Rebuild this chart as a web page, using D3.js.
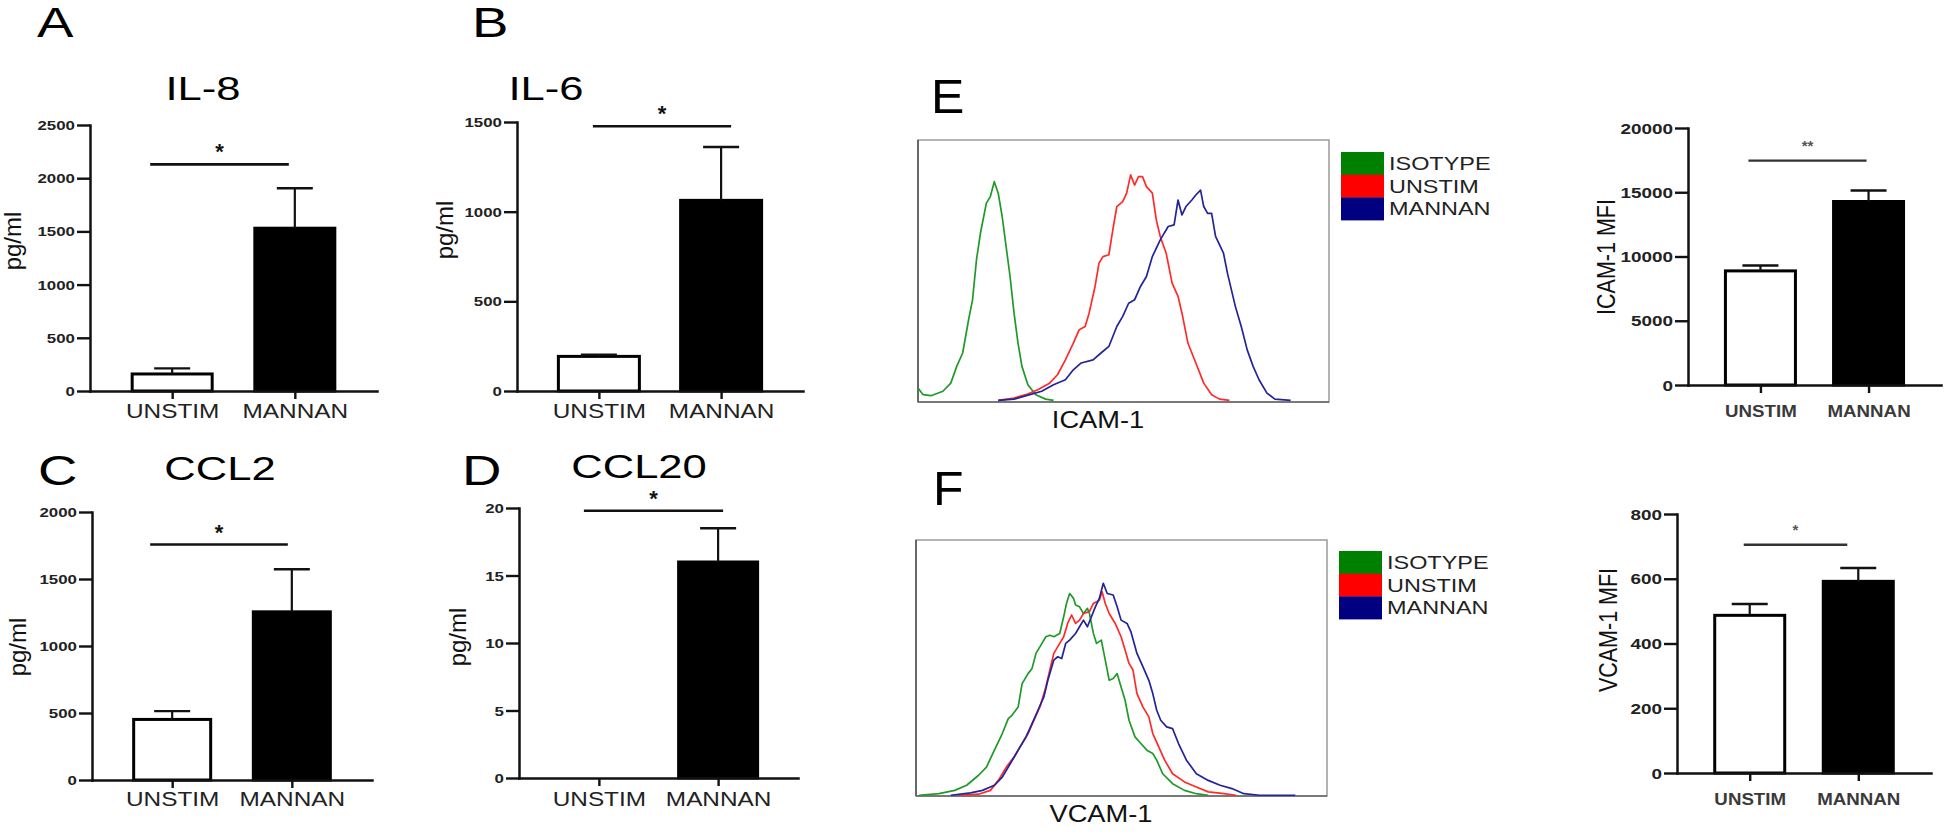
<!DOCTYPE html>
<html><head><meta charset="utf-8">
<script src="https://cdn.jsdelivr.net/npm/d3@7"></script>
<style>
body{margin:0;background:#fff;}
svg{display:block;}
text{font-family:"Liberation Sans",Arial,Helvetica,sans-serif;}
</style>
</head><body>
<svg id="c" width="1944" height="835"></svg>
<script>
// ---------------- DATA ----------------
const categories = ["UNSTIM", "MANNAN"];

const il8Mean = [160, 1530],  il8Upper = [213, 1905],  il8Ticks = [0, 500, 1000, 1500, 2000, 2500], il8Sig = 2130;
const il6Mean = [193, 1063],  il6Upper = [203, 1361],  il6Ticks = [0, 500, 1000, 1500],             il6Sig = 1476;
const ccl2Mean = [452, 1255], ccl2Upper = [514, 1573], ccl2Ticks = [0, 500, 1000, 1500, 2000],       ccl2Sig = 1757;
const ccl20Mean = [0, 16.0],  ccl20Upper = [0, 18.5],  ccl20Ticks = [0, 5, 10, 15, 20],              ccl20Sig = 19.8;
const icamMean = [8880, 14280], icamUpper = [9300, 15140], icamTicks = [0, 5000, 10000, 15000, 20000], icamSig = 17455;
const vcamMean = [487, 592],  vcamUpper = [522, 633],  vcamTicks = [0, 200, 400, 600, 800],          vcamSig = 705;

const legendLabels = ["ISOTYPE", "UNSTIM", "MANNAN"];
const legendColors = ["#008000", "#ff0000", "#000080"];
const lineColors   = ["#1f9a2a", "#ff2a2a", "#23239a"];

// flow cytometry histograms: [channel (0-1000), % of max]
const icamIsotype = [[0,5.3],[12.5,2.8],[31.7,2.4],[60.6,4.1],[79.8,7.2],[94.2,13.6],[108.7,18.7],[123.1,31.4],[132.7,39.0],[142.3,54.3],[151.9,64.4],[166.3,75.9],[176.0,78.4],[185.6,84.1],[195.2,79.7],[204.8,70.8],[214.4,59.3],[224.0,47.9],[233.7,33.9],[243.3,22.5],[252.9,13.6],[267.3,6.6],[286.5,2.8],[310.6,1.1],[329.8,0.6]];
const icamUnstim = [[195.2,0.6],[233.7,1.5],[262.5,2.8],[291.3,4.7],[320.2,7.2],[339.4,10.4],[358.7,16.1],[377.9,22.5],[392.3,27.6],[406.7,28.8],[416.3,33.9],[430.8,44.1],[440.4,53.0],[450.0,55.5],[464.4,56.2],[474.0,65.7],[483.7,74.6],[498.1,76.5],[507.7,79.7],[517.3,86.7],[526.9,82.8],[536.5,86.0],[546.2,86.0],[555.8,82.2],[570.2,79.7],[579.8,69.5],[589.4,63.2],[603.8,56.8],[618.3,45.4],[632.7,40.3],[642.3,33.9],[656.7,22.5],[676.0,14.9],[695.2,7.2],[714.4,2.8],[733.7,1.1],[757.7,0.6]];
const icamMannan = [[195.2,0.6],[233.7,1.1],[272.1,2.8],[301.0,4.1],[329.8,6.6],[358.7,8.5],[377.9,12.3],[397.1,14.9],[426.0,16.1],[445.2,18.7],[464.4,21.2],[483.7,28.8],[498.1,32.7],[512.5,37.7],[526.9,39.0],[541.3,44.1],[555.8,47.9],[570.2,55.5],[589.4,61.9],[608.7,67.0],[623.1,67.6],[632.7,77.1],[642.3,71.4],[651.9,74.6],[666.3,77.1],[676.0,79.0],[687.5,80.9],[695.2,74.6],[704.8,72.0],[714.4,72.0],[724.0,63.2],[743.3,56.8],[752.9,49.2],[772.1,36.5],[786.5,28.8],[801.0,19.9],[815.4,13.6],[829.8,8.5],[849.0,3.4],[868.3,1.1],[906.7,0.6]];

const vcamIsotype = [[7.7,0.3],[55.9,0.9],[94.4,2.2],[123.3,4.2],[152.2,8.1],[171.5,11.3],[190.8,17.9],[210.0,24.4],[224.5,30.2],[234.1,31.6],[248.6,34.8],[258.2,43.9],[272.6,47.8],[282.3,49.8],[291.9,55.7],[306.4,59.6],[316.0,62.2],[325.6,62.8],[335.3,62.2],[349.7,63.5],[359.3,70.0],[366.1,75.2],[373.8,79.1],[383.4,77.2],[388.2,74.6],[397.9,73.9],[407.5,71.3],[417.1,73.3],[422.0,71.3],[431.6,63.5],[439.3,59.6],[450.9,60.9],[460.5,53.1],[470.1,45.2],[479.8,45.9],[489.4,47.8],[499.0,42.6],[508.7,37.4],[518.3,29.6],[532.8,23.1],[547.2,20.5],[561.7,17.9],[576.1,16.6],[585.7,14.0],[600.2,8.7],[624.3,4.8],[653.2,2.2],[682.1,0.9],[711.0,0.3]];
const vcamUnstim = [[104.0,0.3],[152.2,0.7],[181.1,2.2],[200.4,6.1],[219.7,11.3],[238.9,15.3],[258.2,20.5],[272.6,24.4],[287.1,29.6],[301.5,34.8],[316.0,42.6],[325.6,49.2],[335.3,55.7],[349.7,59.6],[359.3,62.2],[369.0,67.4],[378.6,70.7],[388.2,67.4],[397.9,68.7],[407.5,71.3],[422.0,72.0],[431.6,75.2],[446.1,76.5],[452.8,79.8],[460.5,75.2],[470.1,71.3],[484.6,67.4],[499.0,62.2],[508.7,57.0],[518.3,51.8],[527.9,49.2],[537.6,40.0],[552.0,34.8],[566.5,30.9],[576.1,24.4],[590.6,19.2],[605.0,14.0],[624.3,8.7],[653.2,5.5],[682.1,3.5],[711.0,1.6],[749.5,0.9],[778.4,0.3]];
const vcamMannan = [[84.8,0.3],[132.9,1.2],[161.8,2.2],[190.8,4.2],[210.0,7.4],[229.3,12.6],[248.6,17.9],[267.8,23.1],[282.3,28.3],[296.7,33.5],[311.2,38.7],[320.8,45.2],[335.3,53.1],[344.9,54.4],[354.5,53.7],[364.2,59.6],[373.8,60.9],[388.2,63.5],[397.9,66.1],[407.5,68.7],[417.1,66.1],[426.8,70.0],[436.4,73.9],[446.1,77.2],[455.7,83.1],[465.3,79.1],[479.8,78.5],[489.4,73.9],[499.0,68.7],[513.5,67.4],[523.1,64.1],[537.6,55.7],[552.0,50.5],[566.5,45.2],[576.1,40.0],[585.7,33.5],[595.4,29.6],[609.8,27.0],[624.3,26.3],[638.7,20.5],[658.0,14.0],[682.1,8.7],[711.0,6.1],[739.9,4.2],[768.8,2.9],[797.7,0.9],[836.2,0.3],[922.9,0.3]];

// ---------------- DRAWING ----------------
const svg = d3.select("#c");

function stext(parent, x, y, str, o) {
  const t = parent.append("text")
    .attr("transform", `translate(${x},${y}) scale(${o.sx || 1},1)` + (o.rot ? " rotate(-90)" : ""))
    .attr("text-anchor", o.anchor || "start")
    .attr("font-size", o.size)
    .attr("font-weight", o.weight || "normal")
    .attr("fill", o.fill || "#111")
    .text(str);
  return t;
}

const styles = {
  big:   {tickFont: 12.5, tickSx: 1.35, catFont: 21, catSx: 1.16, catWeight: "normal", catFill: "#222",
          ylabFont: 24, ylabSx: 1, starFont: 22, starFill: "#111", starDy: -5, sigW: 2.6, sigColor: "#111"},
  small: {tickFont: 14, tickSx: 1.35, catFont: 16, catSx: 1.17, catWeight: "bold", catFill: "#3a3a3a",
          ylabFont: 21.5, ylabSx: 1.23, starFont: 15, starFill: "#555", starDy: -10, sigW: 2.3, sigColor: "#333"}
};

const barPanels = [
  {letter: "A", letterX: 37, letterY: 37, title: "IL-8", titleX: 203, titleY: 100,
   mean: il8Mean, upper: il8Upper, ticks: il8Ticks, sig: il8Sig, star: "*", sigL: -22, sigR: -6,
   axisX: 90, yTop: 125, yBot: 391, xEnd: 377, barW: 80, ylab: "pg/ml", ylabX: 21, ylabY: 241, catDy: 27, style: "big"},
  {letter: "B", letterX: 472, letterY: 37, title: "IL-6", titleX: 546, titleY: 100,
   mean: il6Mean, upper: il6Upper, ticks: il6Ticks, sig: il6Sig, star: "*", sigL: -6, sigR: 10,
   axisX: 517, yTop: 122, yBot: 391, xEnd: 803, barW: 81, ylab: "pg/ml", ylabX: 453, ylabY: 230, catDy: 27, style: "big"},
  {letter: "C", letterX: 38, letterY: 485, title: "CCL2", titleX: 220, titleY: 480,
   mean: ccl2Mean, upper: ccl2Upper, ticks: ccl2Ticks, sig: ccl2Sig, star: "*", sigL: -22, sigR: -4,
   axisX: 92, yTop: 512, yBot: 780, xEnd: 372, barW: 77, ylab: "pg/ml", ylabX: 26, ylabY: 647, catDy: 26, style: "big"},
  {letter: "D", letterX: 462, letterY: 485, title: "CCL20", titleX: 639, titleY: 478,
   mean: ccl20Mean, upper: ccl20Upper, ticks: ccl20Ticks, sig: ccl20Sig, star: "*", sigL: -15, sigR: 5,
   axisX: 519, yTop: 508, yBot: 778, xEnd: 798, barW: 79, ylab: "pg/ml", ylabX: 466, ylabY: 637, catDy: 28, style: "big"},
  {mean: icamMean, upper: icamUpper, ticks: icamTicks, sig: icamSig, star: "**", sigL: -12, sigR: -2,
   axisX: 1688, yTop: 128, yBot: 385, xEnd: 1941, barW: 70, ylab: "ICAM-1 MFI", ylabX: 1615, ylabY: 257, catDy: 32, style: "small"},
  {mean: vcamMean, upper: vcamUpper, ticks: vcamTicks, sig: vcamSig, star: "*", sigL: -6, sigR: -11,
   axisX: 1677, yTop: 514, yBot: 773, xEnd: 1931, barW: 70, ylab: "VCAM-1 MFI", ylabX: 1617, ylabY: 630, catDy: 32, style: "small"}
];

barPanels.forEach(p => {
  const s = styles[p.style];
  const g = svg.append("g");
  const y = d3.scaleLinear().domain([0, p.ticks[p.ticks.length - 1]]).range([p.yBot, p.yTop]);
  const x = d3.scalePoint().domain(categories).range([p.axisX, p.xEnd]).padding(0.67);

  // bars
  g.selectAll("rect.bar").data(categories).join("rect")
    .attr("class", "bar")
    .attr("x", d => x(d) - p.barW / 2)
    .attr("width", p.barW)
    .attr("y", (d, i) => y(p.mean[i]))
    .attr("height", (d, i) => p.yBot - y(p.mean[i]))
    .attr("fill", (d, i) => i === 0 ? "#fff" : "#000")
    .attr("stroke", "#000").attr("stroke-width", 3);

  // error bars
  categories.forEach((c, i) => {
    if (p.upper[i] <= p.mean[i]) return;
    g.append("line").attr("x1", x(c)).attr("x2", x(c)).attr("y1", y(p.mean[i])).attr("y2", y(p.upper[i]))
      .attr("stroke", "#111").attr("stroke-width", 2.2);
    g.append("line").attr("x1", x(c) - 18).attr("x2", x(c) + 18).attr("y1", y(p.upper[i])).attr("y2", y(p.upper[i]))
      .attr("stroke", "#111").attr("stroke-width", 2.4);
  });

  // y axis
  const ay = g.append("g").attr("transform", `translate(${p.axisX},0)`)
    .call(d3.axisLeft(y).tickValues(p.ticks).tickSize(13).tickSizeOuter(0).tickFormat(d3.format("d")));
  ay.select(".domain").attr("stroke", "#111").attr("stroke-width", 2.5).attr("stroke-linecap", "square");
  ay.selectAll(".tick line").attr("stroke", "#111").attr("stroke-width", 2.4);
  ay.selectAll(".tick text").attr("x", null).attr("dy", "0.36em")
    .attr("transform", `translate(-15,0) scale(${s.tickSx},1)`)
    .attr("font-size", s.tickFont).attr("font-weight", "bold").attr("fill", "#222");

  // x axis
  const ax = g.append("g").attr("transform", `translate(0,${p.yBot})`)
    .call(d3.axisBottom(x).tickSize(8).tickSizeOuter(0));
  ax.select(".domain").attr("stroke", "#111").attr("stroke-width", 2.5).attr("stroke-linecap", "square");
  ax.selectAll(".tick line").attr("stroke", "#111").attr("stroke-width", 2.4);
  ax.selectAll(".tick text").attr("y", null).attr("dy", null)
    .attr("transform", `translate(0,${p.catDy}) scale(${s.catSx},1)`)
    .attr("font-size", s.catFont).attr("font-weight", s.catWeight).attr("fill", s.catFill);

  // significance bracket
  const sx0 = x(categories[0]) + p.sigL, sx1 = x(categories[1]) + p.sigR, sy = y(p.sig);
  g.append("line").attr("x1", sx0).attr("x2", sx1).attr("y1", sy).attr("y2", sy)
    .attr("stroke", s.sigColor).attr("stroke-width", s.sigW);
  stext(g, (sx0 + sx1) / 2, sy + s.starDy, p.star, {size: s.starFont, anchor: "middle", fill: s.starFill, weight: "bold"});

  // y label
  stext(g, p.ylabX, p.ylabY, p.ylab, {size: s.ylabFont, anchor: "middle", rot: true, sx: s.ylabSx, fill: "#111"});

  // panel letter and title
  if (p.letter) stext(g, p.letterX, p.letterY, p.letter, {size: 42, sx: 1.3, fill: "#000"});
  if (p.title) stext(g, p.titleX, p.titleY, p.title, {size: 33, sx: 1.32, anchor: "middle", fill: "#000"});
});

// ---------------- HISTOGRAMS ----------------
const histPanels = [
  {letter: "E", letterX: 931, letterY: 113, series: [icamIsotype, icamUnstim, icamMannan], label: "ICAM-1",
   x0: 918, x1: 1329, y0: 140, y1: 402, labelX: 1098, labelY: 428, legX: 1341, legY: 152},
  {letter: "F", letterX: 933, letterY: 505, series: [vcamIsotype, vcamUnstim, vcamMannan], label: "VCAM-1",
   x0: 916, x1: 1327, y0: 540, y1: 796, labelX: 1101, labelY: 822, legX: 1339, legY: 551}
];

histPanels.forEach(h => {
  const g = svg.append("g");
  const hx = d3.scaleLinear().domain([0, 1000]).range([h.x0, h.x1]);
  const hy = d3.scaleLinear().domain([0, 100]).range([h.y1, h.y0]);
  const line = d3.line().x(d => hx(d[0])).y(d => hy(d[1]));

  g.append("rect").attr("x", h.x0).attr("y", h.y0).attr("width", h.x1 - h.x0).attr("height", h.y1 - h.y0)
    .attr("fill", "none").attr("stroke", "#9a9a9a").attr("stroke-width", 1.5);
  g.append("line").attr("x1", h.x0).attr("x2", h.x0).attr("y1", h.y0).attr("y2", h.y1).attr("stroke", "#555").attr("stroke-width", 1.6);
  g.append("line").attr("x1", h.x0).attr("x2", h.x1).attr("y1", h.y1).attr("y2", h.y1).attr("stroke", "#666").attr("stroke-width", 1.6);

  h.series.forEach((sData, i) => {
    g.append("path").datum(sData).attr("d", line)
      .attr("fill", "none").attr("stroke", lineColors[i]).attr("stroke-width", 1.7).attr("stroke-linejoin", "round");
  });

  // legend
  legendLabels.forEach((lab, i) => {
    g.append("rect").attr("x", h.legX).attr("y", h.legY + i * 22.7).attr("width", 43).attr("height", 23)
      .attr("fill", legendColors[i]);
    stext(g, h.legX + 48, h.legY + i * 22.7 + 18, lab, {size: 18.6, sx: 1.26, fill: "#222"});
  });

  stext(g, h.labelX, h.labelY, h.label, {size: 23.5, sx: 1.16, anchor: "middle", fill: "#111"});
  stext(g, h.letterX, h.letterY, h.letter, {size: 49, sx: 1.02, fill: "#000"});
});
</script>
</body></html>
